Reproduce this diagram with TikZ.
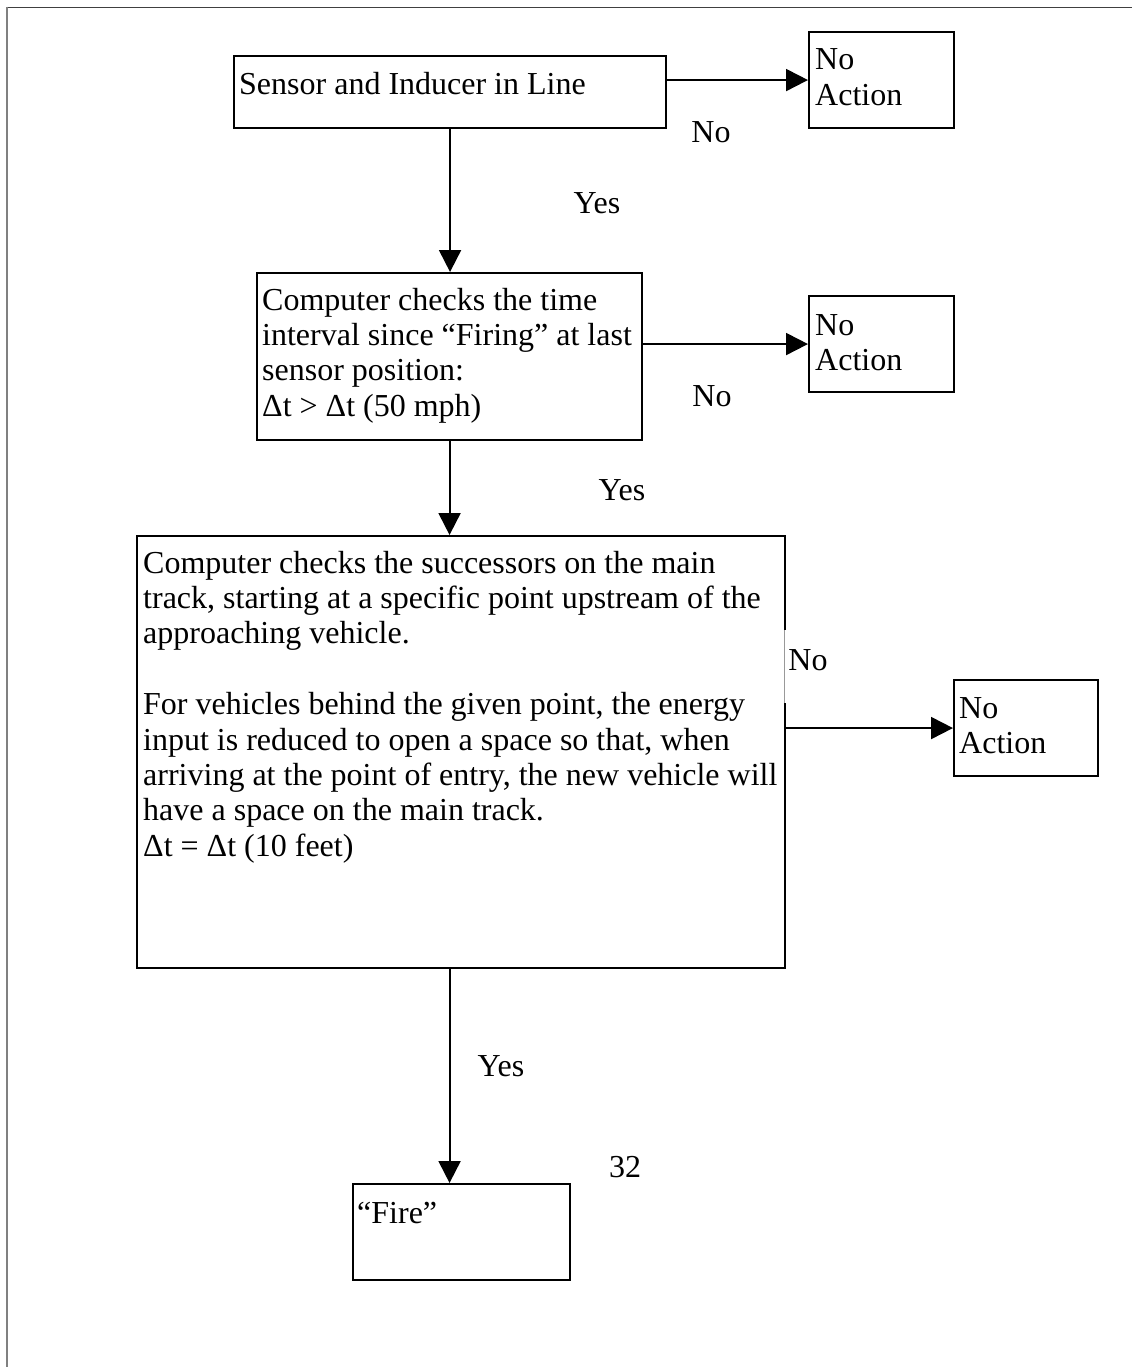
\documentclass[tikz,border=0pt]{standalone}
\usepackage{fontspec}
\setmainfont{Liberation Serif}
\usetikzlibrary{arrows.meta}
\newcommand{\tx}[2]{\parbox[t]{#1pt}{\fontsize{32}{35.4}\selectfont\raggedright #2}}
\begin{document}
\begin{tikzpicture}[x=1pt,y=-1pt,
  boxs/.style={draw=black, line width=2.1pt, inner sep=0pt, anchor=north west},
  txt/.style={inner sep=0pt, anchor=base west},
  lbl/.style={inner sep=0pt, font=\fontsize{32}{35.4}\selectfont},
  arr/.style={line width=2pt, -{Triangle[length=22pt,width=22pt]}}]
\useasboundingbox (0,0) rectangle (1132,1367);
\fill[white] (0,0) rectangle (1132,1367);
% frame
\draw[black!75, line width=1.6pt] (7,7.5) -- (1132,7.5);
\draw[black!50, line width=2pt] (7,6.7) -- (7,1367);
% boxes
\node[boxs, minimum width=432pt, minimum height=72pt] (b1) at (233,55) {};
\node[txt] (t1) at (239,95) {\tx{420}{Sensor and Inducer in Line}};
\node[boxs, minimum width=145pt, minimum height=96pt] (na1) at (808,31) {};
\node[txt] (tn1) at (815,70) {\tx{135}{No\\Action}};
\node[boxs, minimum width=385pt, minimum height=167pt] (b2) at (256,272) {};
\node[txt] (t2) at (262,310) {\tx{378}{Computer checks the time interval since “Firing” at last sensor position:\\Δt > Δt (50 mph)}};
\node[boxs, minimum width=145pt, minimum height=96pt] (na2) at (808,295) {};
\node[txt] (tn2) at (815,335) {\tx{135}{No\\Action}};
\node[boxs, minimum width=648pt, minimum height=432pt] (b3) at (136,535) {};
\node[txt] (t3) at (143,573) {\tx{638}{Computer checks the successors on the main track, starting at a specific point upstream of the approaching vehicle.\\[35.4pt]For vehicles behind the given point, the energy input is reduced to open a space so that, when arriving at the point of entry, the new vehicle will have a space on the main track.\\Δt = Δt (10 feet)}};
\node[boxs, minimum width=144pt, minimum height=96pt] (na3) at (953,679) {};
\node[txt] (tn3) at (959,718) {\tx{135}{No\\Action}};
\node[boxs, minimum width=217pt, minimum height=96pt] (fire) at (352,1183) {};
\node[txt] (tf) at (357,1223) {\tx{200}{“Fire”}};
% gap in big box edge under the label
\node[fill=white, inner sep=0pt, minimum width=5pt, minimum height=73pt] (gap) at (784,666.5) {};
\draw[black!40, line width=0.6pt] (gap.north) -- (gap.south);
% connectors
\draw[arr] (b1.east |- na1.west) -- (na1.west);
\draw[arr] (b2.east |- na2.west) -- (na2.west);
\draw[arr] (b3.east |- na3.west) -- (na3.west);
\draw[arr] (b1.south) -- (b1.south |- b2.north);
\draw[arr] (b2.south) -- (b2.south |- b3.north);
\draw[arr] (b2.south |- b3.south) -- (b2.south |- fire.north);
% labels
\node[lbl] (l1) at (711,132) {No};
\node[lbl] (l2) at (597,203) {Yes};
\node[lbl] (l3) at (712,396) {No};
\node[lbl] (l4) at (622,490) {Yes};
\node[lbl] (l5) at (808,660) {No};
\node[lbl] (l6) at (501,1066) {Yes};
\node[lbl] (l7) at (625,1167) {32};
\end{tikzpicture}
\end{document}
